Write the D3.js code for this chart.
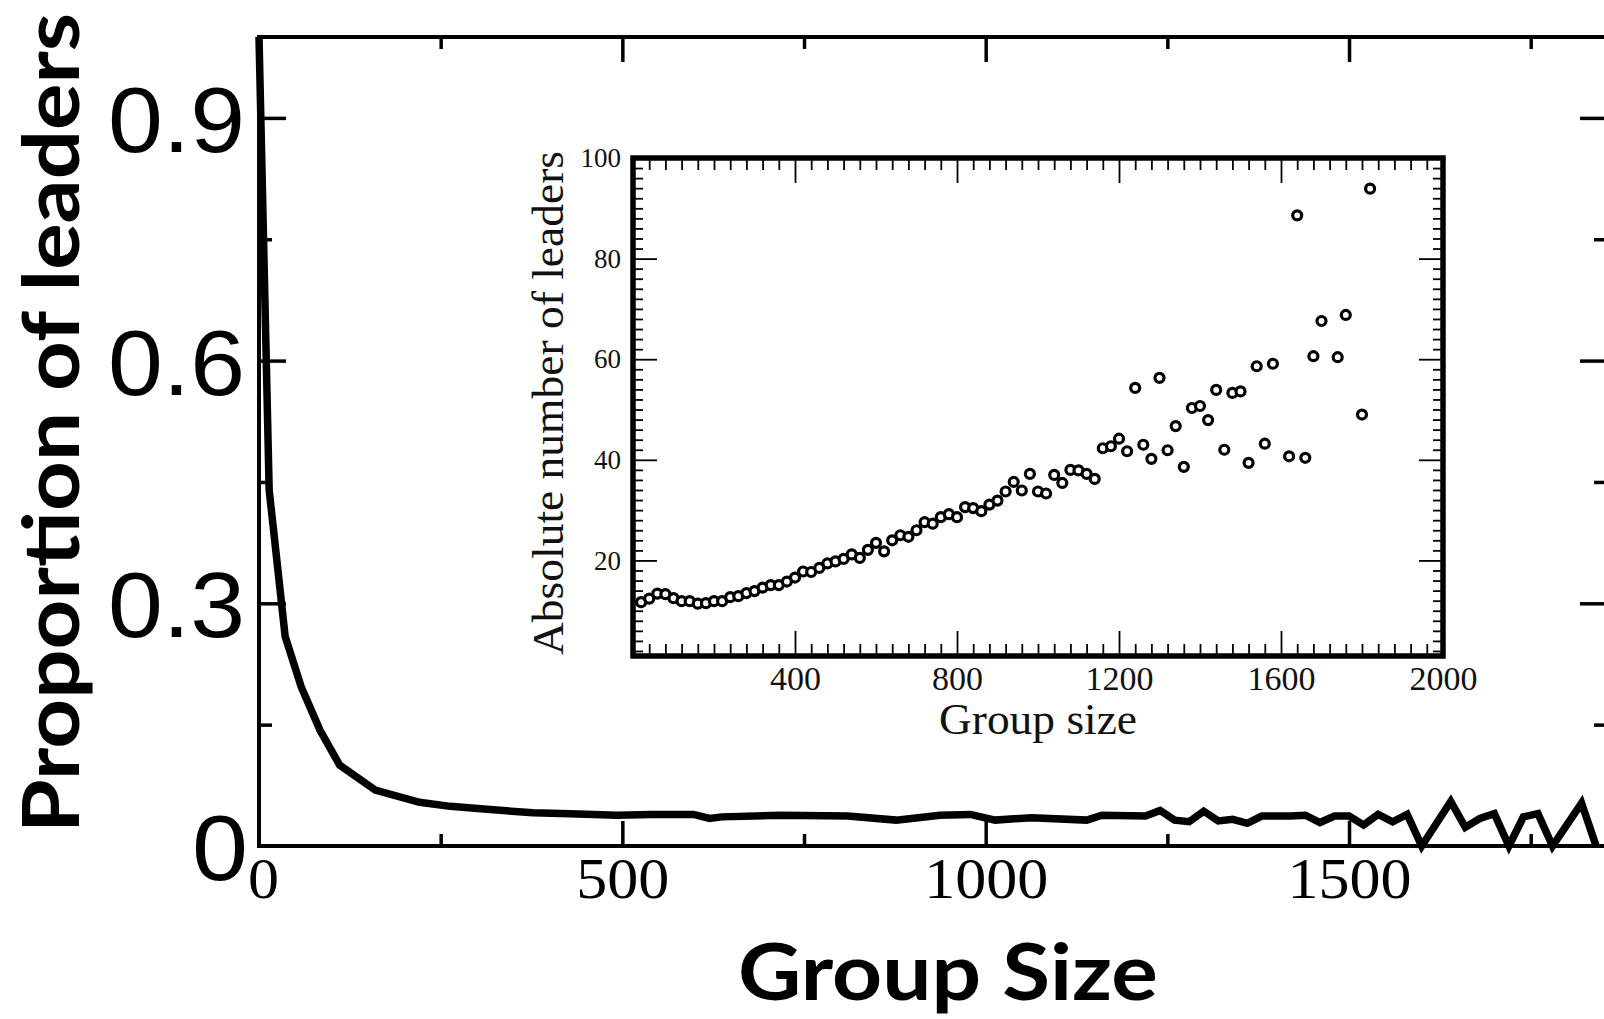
<!DOCTYPE html>
<html>
<head>
<meta charset="utf-8">
<script src="https://cdn.jsdelivr.net/npm/d3@7"></script>
<style>
  body { margin: 0; background: #fff; overflow: hidden; }
</style>
</head>
<body>
<script>
// main curve: proportion of leaders against group size (vertices)
var mainSize = [0, 14, 36, 58, 84, 111, 160, 221, 263, 318, 377, 428, 492, 540, 598, 620, 637,
  717, 810, 877, 937, 979, 1013, 1063, 1139, 1160, 1220, 1240, 1260, 1280, 1300, 1320, 1340,
  1360, 1380, 1420, 1440, 1460, 1480, 1500, 1520, 1540, 1560, 1580, 1600, 1640, 1660, 1680,
  1700, 1720, 1740, 1760, 1780, 1820, 1840];
var mainProp = [1.0, 0.44, 0.259, 0.197, 0.143, 0.100, 0.069, 0.054, 0.049, 0.045, 0.041, 0.040,
  0.038, 0.039, 0.039, 0.034, 0.036, 0.038, 0.037, 0.032, 0.038, 0.039, 0.032, 0.035, 0.032,
  0.038, 0.037, 0.044, 0.032, 0.030, 0.043, 0.031, 0.033, 0.028, 0.037, 0.037, 0.038, 0.029,
  0.037, 0.037, 0.026, 0.039, 0.030, 0.039, 0.0, 0.055, 0.023, 0.034, 0.040, 0.0, 0.036, 0.040,
  0.0, 0.053, 0.0];

// inset: absolute number of leaders
var insetSize = [20, 40, 60, 80, 100, 120, 140, 160, 180, 200, 220, 240, 260, 280, 300, 320, 340,
  360, 380, 400, 420, 440, 460, 480, 500, 520, 540, 560, 580, 600, 620, 640, 660, 680, 700, 720,
  740, 760, 780, 800, 820, 840, 860, 880, 900, 920, 940, 960, 980, 1000, 1020, 1040, 1060, 1080,
  1100, 1120, 1140, 1160, 1180, 1200, 1220, 1240, 1260, 1280, 1300, 1320, 1340, 1360, 1380, 1400,
  1420, 1440, 1460, 1480, 1500, 1520, 1540, 1560, 1580, 1620, 1640, 1660, 1680, 1700, 1740, 1760,
  1800, 1820];
var insetLeaders = [11.7, 12.4, 13.4, 13.3, 12.5, 11.9, 11.9, 11.4, 11.5, 11.9, 11.9, 12.7, 12.9,
  13.5, 13.9, 14.6, 15.1, 15.1, 15.8, 16.6, 17.8, 17.7, 18.5, 19.4, 19.8, 20.3, 21.2, 20.5, 22.1,
  23.5, 21.8, 24.0, 25.0, 24.7, 26.0, 27.6, 27.3, 28.6, 29.2, 28.6, 30.6, 30.4, 29.8, 31.1, 31.9,
  33.7, 35.6, 33.9, 37.2, 33.7, 33.3, 37.0, 35.4, 38.0, 37.9, 37.2, 36.2, 42.3, 42.7, 44.2, 41.7,
  54.3, 43.0, 40.2, 56.3, 41.9, 46.7, 38.6, 50.3, 50.7, 47.9, 53.9, 42.0, 53.3, 53.6, 39.4, 58.6,
  43.2, 59.1, 40.7, 88.6, 40.4, 60.6, 67.6, 60.4, 68.8, 49.0, 93.9];

var mainYTicks = [0, 0.3, 0.6, 0.9];
var mainYMinor = [0.15, 0.45, 0.75];
var mainXTicks = [0, 500, 1000, 1500];
var mainXMinor = [250, 750, 1250, 1750];
var insetXTicks = [400, 800, 1200, 1600, 2000];
var insetYTicks = [20, 40, 60, 80, 100];

var w = 1604, h = 1019;
var plain = d3.format("d");

var svg = d3
  .select("body")
  .append("svg")
  .attr("width", w)
  .attr("height", h);

var x = d3.scaleLinear().domain([0, 1855]).range([259, 1607]);
var y = d3.scaleLinear().domain([0, 1]).range([846, 37]);

//ticks of the main frame (all pointing inwards)
function tickGroup(axis, tx, ty, sw) {
  var g = svg.append("g").attr("transform", "translate(" + tx + "," + ty + ")").call(axis);
  g.select(".domain").remove();
  g.selectAll("text").remove();
  g.selectAll("line").attr("stroke", "#000").attr("stroke-width", sw);
  return g;
}
tickGroup(d3.axisBottom(x).tickValues(mainXTicks.slice(1)).tickSize(-25), 0, y(0), 3.5);
tickGroup(d3.axisBottom(x).tickValues(mainXMinor).tickSize(-12), 0, y(0), 3.5);
tickGroup(d3.axisTop(x).tickValues(mainXTicks.slice(1)).tickSize(-25), 0, y(1), 3.5);
tickGroup(d3.axisTop(x).tickValues(mainXMinor).tickSize(-12), 0, y(1), 3.5);
tickGroup(d3.axisLeft(y).tickValues(mainYTicks.slice(1)).tickSize(-27), x(0), 0, 3.5);
tickGroup(d3.axisLeft(y).tickValues(mainYMinor).tickSize(-13), x(0), 0, 3.5);
tickGroup(d3.axisRight(y).tickValues(mainYTicks.slice(1)).tickSize(-27), x(1855), 0, 3.5);
tickGroup(d3.axisRight(y).tickValues(mainYMinor).tickSize(-13), x(1855), 0, 3.5);

// frame
svg.append("rect")
  .attr("x", x(0)).attr("y", y(1))
  .attr("width", x(1855) - x(0)).attr("height", y(0) - y(1))
  .attr("fill", "none").attr("stroke", "#000").attr("stroke-width", 4);

// tick labels
var yLab = svg.append("g")
  .attr("transform", "translate(" + x(0) + ",0)")
  .call(d3.axisLeft(y).tickValues(mainYTicks).tickSize(0).tickPadding(14)
    .tickFormat(function (d) { return d === 0 ? "0" : d.toFixed(1); }));
yLab.select(".domain").remove();
yLab.selectAll("text")
  .attr("font-family", "'Liberation Sans', Arial, sans-serif")
  .attr("font-size", 93)
  .attr("fill", "#000")
  .attr("dy", "0.36em")
  .attr("textLength", function (d) { return d === 0 ? 56 : 137; })
  .attr("lengthAdjust", "spacingAndGlyphs")
  .attr("x", function (d) { return d === 0 ? -11 : -14; });

var xLab = svg.append("g")
  .attr("transform", "translate(0," + y(0) + ")")
  .call(d3.axisBottom(x).tickValues(mainXTicks).tickSize(0).tickPadding(12).tickFormat(plain));
xLab.select(".domain").remove();
xLab.selectAll("text")
  .attr("font-family", "'Liberation Serif', 'Times New Roman', serif")
  .attr("font-size", 56)
  .attr("fill", "#000")
  .attr("textLength", function (d) { return String(d).length * 31; })
  .attr("lengthAdjust", "spacingAndGlyphs")
  .attr("x", function (d) { return d === 0 ? 4 : 0; });

// main curve
svg.append("clipPath").attr("id", "plotClip")
  .append("rect").attr("x", 0).attr("y", 0).attr("width", x(1855)).attr("height", h);

var line = d3.line()
  .x(function (d) { return x(d[0]); })
  .y(function (d) { return y(d[1]); });

svg.append("path")
  .datum(d3.zip(mainSize, mainProp))
  .attr("clip-path", "url(#plotClip)")
  .attr("d", line)
  .attr("fill", "none")
  .attr("stroke", "#000")
  .attr("stroke-width", 7.5)
  .attr("stroke-linejoin", "miter")
  .attr("stroke-miterlimit", 6);

// axis titles
svg.append("text")
  .attr("x", 948).attr("y", 1000)
  .attr("text-anchor", "middle")
  .attr("font-family", "Lato, 'Open Sans', sans-serif")
  .attr("font-weight", "bold")
  .attr("font-size", 78)
  .attr("textLength", 420)
  .attr("lengthAdjust", "spacingAndGlyphs")
  .text("Group Size");

svg.append("text")
  .attr("transform", "translate(79,833) rotate(-90)")
  .attr("font-family", "Lato, 'Open Sans', sans-serif")
  .attr("font-weight", "bold")
  .attr("font-size", 78)
  .attr("textLength", 820)
  .attr("lengthAdjust", "spacingAndGlyphs")
  .text("Proportion of leaders");

//Inset
var ix = d3.scaleLinear().domain([0, 2000]).range([633, 1443]);
var iy = d3.scaleLinear().domain([1, 100]).range([656, 158]);

var inset = svg.append("g");
inset.append("rect")
  .attr("x", ix(0)).attr("y", iy(100))
  .attr("width", ix(2000) - ix(0)).attr("height", iy(1) - iy(100))
  .attr("fill", "#fff");

var xMinor = d3.range(40, 2000, 40).filter(function (d) { return d % 400 !== 0; });
var yMinor = d3.range(2, 100, 2).filter(function (d) { return d % 20 !== 0; });

function insetTicks(axis, tx, ty) {
  var g = inset.append("g").attr("transform", "translate(" + tx + "," + ty + ")").call(axis);
  g.select(".domain").remove();
  g.selectAll("text").remove();
  g.selectAll("line").attr("stroke", "#000").attr("stroke-width", 1.8);
}
insetTicks(d3.axisBottom(ix).tickValues(insetXTicks.slice(0, 4)).tickSize(-25), 0, iy(1));
insetTicks(d3.axisBottom(ix).tickValues(xMinor).tickSize(-12), 0, iy(1));
insetTicks(d3.axisTop(ix).tickValues(insetXTicks.slice(0, 4)).tickSize(-25), 0, iy(100));
insetTicks(d3.axisTop(ix).tickValues(xMinor).tickSize(-12), 0, iy(100));
insetTicks(d3.axisLeft(iy).tickValues(insetYTicks.slice(0, 4)).tickSize(-24), ix(0), 0);
insetTicks(d3.axisLeft(iy).tickValues(yMinor).tickSize(-10), ix(0), 0);
insetTicks(d3.axisRight(iy).tickValues(insetYTicks.slice(0, 4)).tickSize(-24), ix(2000), 0);
insetTicks(d3.axisRight(iy).tickValues(yMinor).tickSize(-10), ix(2000), 0);

inset.append("rect")
  .attr("x", ix(0)).attr("y", iy(100))
  .attr("width", ix(2000) - ix(0)).attr("height", iy(1) - iy(100))
  .attr("fill", "none").attr("stroke", "#000").attr("stroke-width", 5.5);

inset.selectAll("circle")
  .data(d3.zip(insetSize, insetLeaders))
  .enter()
  .append("circle")
  .attr("cx", function (d) { return ix(d[0]); })
  .attr("cy", function (d) { return iy(d[1]); })
  .attr("r", 4.5)
  .attr("fill", "#fff")
  .attr("stroke", "#000")
  .attr("stroke-width", 3.2);

var ixLab = inset.append("g")
  .attr("transform", "translate(0," + iy(1) + ")")
  .call(d3.axisBottom(ix).tickValues(insetXTicks).tickSize(0).tickPadding(10).tickFormat(plain));
ixLab.select(".domain").remove();
ixLab.selectAll("text")
  .attr("font-family", "'Liberation Serif', 'Times New Roman', serif")
  .attr("font-size", 34)
  .attr("fill", "#111");

var iyLab = inset.append("g")
  .attr("transform", "translate(" + ix(0) + ",0)")
  .call(d3.axisLeft(iy).tickValues(insetYTicks).tickSize(0).tickPadding(12).tickFormat(plain));
iyLab.select(".domain").remove();
iyLab.selectAll("text")
  .attr("font-family", "'Liberation Serif', 'Times New Roman', serif")
  .attr("font-size", 27)
  .attr("fill", "#111");

inset.append("text")
  .attr("x", 1038).attr("y", 734)
  .attr("text-anchor", "middle")
  .attr("font-family", "'Liberation Serif', 'Times New Roman', serif")
  .attr("font-size", 45)
  .attr("fill", "#111")
  .attr("textLength", 198)
  .attr("lengthAdjust", "spacingAndGlyphs")
  .text("Group size");

inset.append("text")
  .attr("transform", "translate(563,403) rotate(-90)")
  .attr("text-anchor", "middle")
  .attr("font-family", "'Liberation Serif', 'Times New Roman', serif")
  .attr("font-size", 45)
  .attr("fill", "#111")
  .attr("textLength", 504)
  .attr("lengthAdjust", "spacingAndGlyphs")
  .text("Absolute number of leaders");
</script>
</body>
</html>
